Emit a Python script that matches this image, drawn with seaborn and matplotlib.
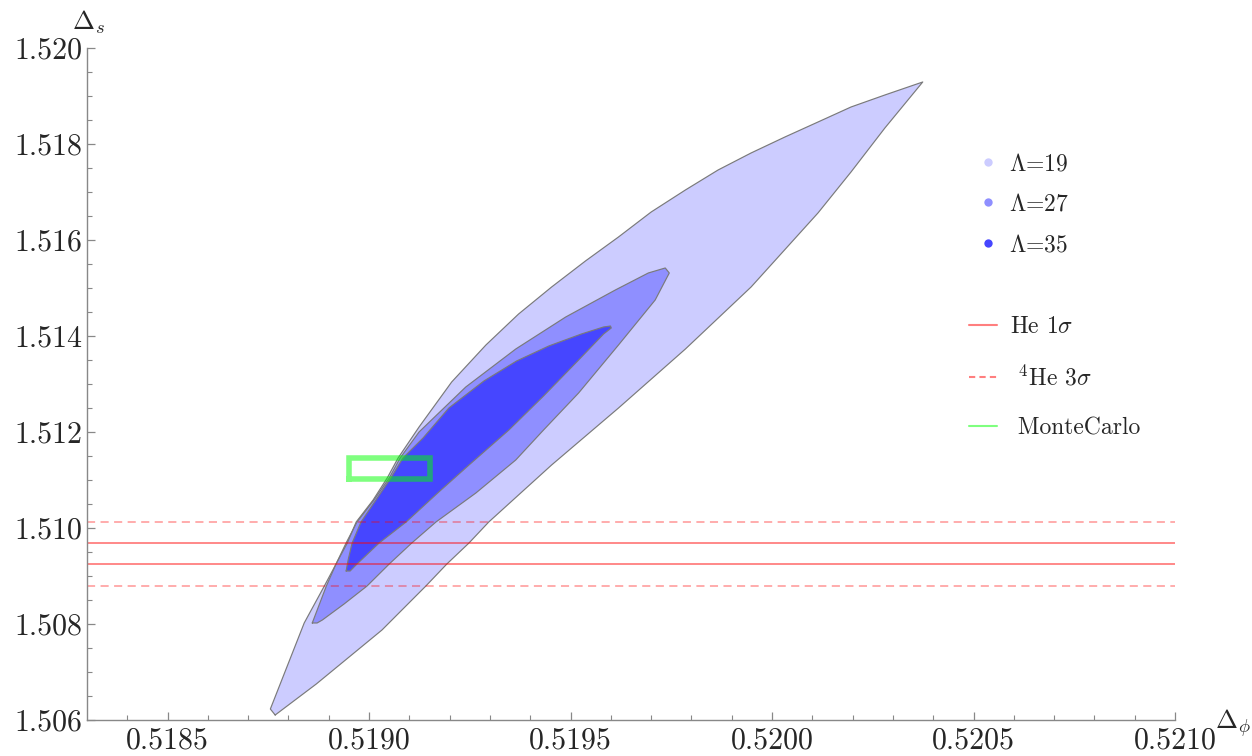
import pandas as pd
import seaborn as sns
import matplotlib.pyplot as plt
from matplotlib.lines import Line2D

# allowed regions (boundary points), Delta_phi / Delta_s
lam19_x = [0.518767, 0.518755, 0.518839, 0.518889, 0.518918, 0.518946, 0.518968, 0.519010,
           0.519045, 0.519072, 0.519124, 0.519205, 0.519290, 0.519371, 0.519453, 0.519537,
           0.519619, 0.519700, 0.519785, 0.519866, 0.519948, 0.520032, 0.520114, 0.520196,
           0.520280, 0.520374, 0.520280, 0.520196, 0.520114, 0.519948, 0.519785, 0.519619,
           0.519453, 0.519297, 0.519248, 0.519193, 0.519141, 0.519032, 0.518869]
lam19_y = [1.506104, 1.506229, 1.508021, 1.508792, 1.509250, 1.509688, 1.510125, 1.510583,
           1.511042, 1.511458, 1.512104, 1.513042, 1.513813, 1.514458, 1.515021, 1.515563,
           1.516063, 1.516583, 1.517042, 1.517458, 1.517813, 1.518146, 1.518458, 1.518771,
           1.519021, 1.519292, 1.518333, 1.517417, 1.516563, 1.515021, 1.513729, 1.512500,
           1.511313, 1.510125, 1.509688, 1.509250, 1.508792, 1.507875, 1.506750]

lam27_x = [0.518859, 0.518894, 0.518918, 0.518943, 0.518970, 0.519012, 0.519050, 0.519077,
           0.519124, 0.519240, 0.519364, 0.519488, 0.519611, 0.519693, 0.519735, 0.519745,
           0.519710, 0.519619, 0.519520, 0.519433, 0.519364, 0.519265, 0.519166, 0.519106,
           0.519050, 0.518995, 0.518938, 0.518884, 0.518871]
lam27_y = [1.508021, 1.508792, 1.509250, 1.509688, 1.510125, 1.510583, 1.511042, 1.511458,
           1.512000, 1.512938, 1.513729, 1.514396, 1.514958, 1.515313, 1.515417, 1.515313,
           1.514750, 1.513813, 1.512813, 1.512042, 1.511417, 1.510729, 1.510125, 1.509688,
           1.509250, 1.508792, 1.508417, 1.508083, 1.508021]

lam35_x = [0.518943, 0.518948, 0.518958, 0.518980, 0.519017, 0.519054, 0.519084, 0.519134,
           0.519198, 0.519285, 0.519366, 0.519446, 0.519527, 0.519582, 0.519599, 0.519601,
           0.519582, 0.519520, 0.519433, 0.519347, 0.519248, 0.519173, 0.519092, 0.519025,
           0.518970, 0.518953]
lam35_y = [1.509104, 1.509333, 1.509688, 1.510125, 1.510583, 1.511042, 1.511458, 1.511875,
           1.512500, 1.513063, 1.513479, 1.513792, 1.514042, 1.514188, 1.514208, 1.514167,
           1.514042, 1.513500, 1.512750, 1.512042, 1.511313, 1.510750, 1.510125, 1.509688,
           1.509250, 1.509104]

region_labels = [r"$\Lambda$=19", r"$\Lambda$=27", r"$\Lambda$=35"]
region_colors = ["#ccccff", "#8f8fff", "#4646ff"]

# helium bands
he_1sigma = [1.50968, 1.50924]
he4_3sigma = [1.51013, 1.50879]

# Monte Carlo box
mc_x = [0.51895, 0.51915, 0.51915, 0.51895, 0.51895]
mc_y = [1.51102, 1.51102, 1.51145, 1.51145, 1.51102]

xticks = [0.5185, 0.5190, 0.5195, 0.5200, 0.5205, 0.5210]
xtick_labels = ["0.5185", "0.5190", "0.5195", "0.5200", "0.5205", "0.5210"]
yticks = [1.506, 1.508, 1.510, 1.512, 1.514, 1.516, 1.518, 1.520]
ytick_labels = ["1.506", "1.508", "1.510", "1.512", "1.514", "1.516", "1.518", "1.520"]

sns.set_theme(style="ticks")
plt.rcParams["font.family"] = ["cmr10", "DejaVu Serif"]
plt.rcParams["mathtext.fontset"] = "cm"
plt.rcParams["axes.unicode_minus"] = False


def main():
    fig = plt.figure(figsize=(12.52, 7.56), dpi=100)
    ax = fig.add_axes([87 / 1252, 36 / 756, 1088 / 1252, 672 / 756])

    regions = [(lam19_x, lam19_y), (lam27_x, lam27_y), (lam35_x, lam35_y)]
    for (xs, ys), col in zip(regions, region_colors):
        df = pd.DataFrame({"x": xs + xs[:1], "y": ys + ys[:1]})
        ax.fill(df["x"], df["y"], color=col, lw=0)
        sns.lineplot(data=df, x="x", y="y", sort=False, estimator=None,
                     color="#7a7a7a", lw=0.85, ax=ax)

    for y in he_1sigma:
        ax.axhline(y, color="red", alpha=0.5, lw=1.3)
    for y in he4_3sigma:
        ax.axhline(y, color="red", alpha=0.35, lw=1.3, dashes=(4.5, 3))

    mc = pd.DataFrame({"x": mc_x, "y": mc_y})
    sns.lineplot(data=mc, x="x", y="y", sort=False, estimator=None, color="#00ff00",
                 alpha=0.5, lw=4, solid_joinstyle="miter", solid_capstyle="projecting", ax=ax)

    ax.set_xlim(0.5183, 0.5210)
    ax.set_ylim(1.506, 1.520)
    ax.set_xticks(xticks, labels=xtick_labels)
    ax.set_yticks(yticks, labels=ytick_labels)
    ax.set_xticks([0.5184 + 0.0001 * i for i in range(27)], minor=True)
    ax.set_yticks([1.506 + 0.0005 * i for i in range(29)], minor=True)
    ax.tick_params(which="both", direction="in", color="#888888", labelsize=21.5)
    ax.tick_params(which="major", length=6, width=0.9)
    ax.tick_params(which="minor", length=3.5, width=0.8)
    ax.tick_params(axis="x", pad=5)
    ax.tick_params(axis="y", pad=3.5)
    for side in ["top", "right"]:
        ax.spines[side].set_visible(False)
    for side in ["left", "bottom"]:
        ax.spines[side].set_color("#888888")
        ax.spines[side].set_linewidth(1.0)
    ax.set_xlabel("")
    ax.set_ylabel("")

    fig.text(72 / 1252, 1 - 30 / 756, r"$\Delta_s$", fontsize=19, ha="left", va="baseline")
    fig.text(1215 / 1252, 1 - 729 / 756, r"$\Delta_\phi$", fontsize=19, ha="left", va="baseline")

    h1 = [Line2D([], [], ls="none", marker="o", ms=6, mec="none", mfc=c) for c in region_colors]
    leg1 = ax.legend(h1, region_labels, loc="upper left", frameon=False, fontsize=17,
                     bbox_to_anchor=(976 / 1252, 1 - 153 / 756), bbox_transform=fig.transFigure,
                     borderpad=0, borderaxespad=0, handlelength=1.0, handletextpad=0.4,
                     labelspacing=0.78)
    ax.add_artist(leg1)

    h2 = [Line2D([], [], color="red", alpha=0.5, lw=1.5),
          Line2D([], [], color="red", alpha=0.5, lw=1.5, dashes=(3, 2)),
          Line2D([], [], color="#00ff00", alpha=0.5, lw=1.5)]
    labels2 = [r"He 1$\sigma$", r" $^4$He 3$\sigma$", r" MonteCarlo"]
    ax.legend(h2, labels2, loc="upper left", frameon=False, fontsize=17,
              bbox_to_anchor=(969 / 1252, 1 - 316 / 756), bbox_transform=fig.transFigure,
              borderpad=0, borderaxespad=0, handlelength=1.2, handletextpad=0.55,
              labelspacing=1.15)

    fig.savefig("out.png", dpi=100)
    plt.close(fig)


if __name__ == "__main__":
    main()
